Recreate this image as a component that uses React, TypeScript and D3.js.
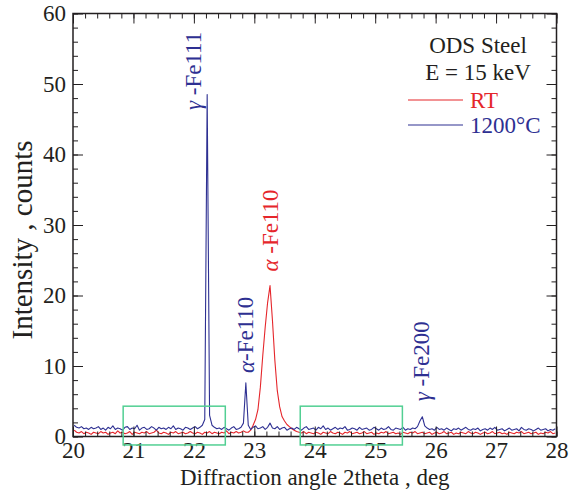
import React, { useEffect, useRef } from "react";
import * as d3 from "d3";

const width = 570;
const height = 497;
const margin = { top: 13.5, right: 13.5, bottom: 60.5, left: 73 };
const serif = "Liberation Serif, Times New Roman, Times, serif";

// scan grid, deg
const angleStart = 20.02;
const angleStep = 0.04;

// RT scan
const rtCounts = [
  0.9, 0.6, 0.5, 0.7, 0.4, 0.6, 0.5, 0.3, 0.6, 0.5,
  0.4, 0.7, 0.5, 0.6, 0.3, 0.5, 0.6, 0.4, 0.8, 0.5,
  0.6, 0.4, 0.5, 0.7, 0.3, 0.6, 0.5, 0.4, 0.6, 0.5,
  0.7, 0.4, 0.5, 0.6, 0.9, 0.5, 0.4, 0.6, 0.5, 0.3,
  0.6, 0.5, 0.7, 0.4, 0.5, 0.6, 0.4, 0.5, 0.7, 0.5,
  0.4, 0.6, 0.5, 0.3, 0.6, 0.5, 0.7, 0.4, 0.6, 0.5,
  0.4, 0.6, 0.5, 0.8, 0.4, 0.6, 0.5, 0.7, 0.5, 0.6,
  0.8, 0.6, 0.6, 0.9, 1.6, 2.4, 3.8, 7.0, 11.5, 15.5,
  19.0, 21.4, 16.5, 10.8, 6.5, 4.2, 2.8, 2.2, 1.7, 1.4,
  1.1, 0.9, 0.7, 0.6, 0.5, 0.7, 0.4, 0.6, 0.5, 0.4,
  0.6, 0.5, 0.3, 0.6, 0.5, 0.4, 0.7, 0.5, 0.4, 0.6,
  0.5, 0.3, 0.6, 0.5, 0.7, 0.4, 0.5, 0.6, 0.4, 0.5,
  0.7, 0.4, 0.5, 0.6, 0.3, 0.5, 0.4, 0.6, 0.5, 0.7,
  0.4, 0.5, 0.6, 0.4, 0.5, 0.3, 0.6, 0.5, 0.4, 0.6,
  0.5, 0.7, 0.4, 0.5, 0.6, 0.4, 0.5, 0.6, 0.3, 0.5,
  0.6, 0.4, 0.5, 0.7, 0.4, 0.5, 0.6, 0.3, 0.5, 0.4,
  0.6, 0.5, 0.4, 0.7, 0.5, 0.4, 0.6, 0.5, 0.3, 0.5,
  0.6, 0.4, 0.5, 0.7, 0.4, 0.5, 0.6, 0.4, 0.5, 0.3,
  0.6, 0.5, 0.4, 0.6, 0.5, 0.7, 0.4, 0.5, 0.6, 0.4,
  0.5, 0.6, 0.3, 0.5, 0.4, 0.6, 0.5, 0.7, 0.4, 0.5,
];

// 1200 C scan
const hotCounts = [
  1.6, 1.3, 1.2, 1.4, 1.1, 1.2, 1.0, 1.3, 1.1, 1.2,
  1.4, 1.0, 1.2, 0.9, 1.3, 1.1, 1.5, 1.0, 1.2, 1.1,
  0.9, 1.3, 1.4, 1.0, 1.2, 1.1, 1.6, 0.9, 1.2, 1.3,
  1.0, 1.1, 1.4, 1.2, 0.9, 1.3, 1.1, 1.2, 1.0, 1.3,
  1.1, 1.5, 1.0, 1.2, 1.1, 0.9, 1.3, 1.2, 1.0, 1.2,
  1.4, 1.1, 1.3, 1.6, 2.4, 48.5, 3.0, 1.6, 1.3, 1.1,
  1.2, 1.0, 1.3, 1.1, 0.9, 1.2, 1.4, 1.0, 1.1, 1.3,
  1.9, 7.6, 1.6, 1.0, 1.3, 1.5, 1.1, 1.2, 1.4, 1.0,
  1.3, 1.9, 1.2, 1.1, 1.4, 1.0, 1.2, 1.3, 0.9, 1.1,
  1.2, 1.0, 1.3, 1.1, 0.9, 1.2, 1.4, 1.0, 1.1, 1.2,
  0.9, 1.3, 1.1, 1.5, 1.0, 1.2, 0.9, 1.1, 1.3, 1.0,
  1.2, 1.1, 1.4, 0.9, 1.0, 1.2, 1.1, 0.9, 1.3, 1.0,
  1.1, 1.2, 0.9, 1.0, 1.3, 1.1, 0.9, 1.2, 1.0, 1.1,
  1.4, 1.0, 0.9, 1.2, 1.1, 1.0, 1.3, 0.9, 1.1, 1.0,
  1.2, 1.1, 1.4, 2.2, 2.8, 1.5, 1.2, 1.0, 1.1, 0.9,
  1.3, 1.0, 1.1, 0.9, 1.2, 1.0, 0.8, 1.1, 1.0, 1.2,
  0.9, 1.1, 1.3, 1.0, 0.9, 1.1, 1.0, 1.2, 0.8, 1.0,
  1.1, 0.9, 1.2, 1.0, 1.3, 0.9, 1.0, 1.1, 0.8, 1.0,
  1.2, 0.9, 1.0, 1.1, 0.8, 1.3, 1.0, 0.9, 1.1, 1.0,
  0.8, 1.0, 1.2, 0.9, 1.0, 1.1, 0.8, 1.0, 0.9, 1.1,
];

const xTicks = [20, 21, 22, 23, 24, 25, 26, 27, 28];
const yTicks = [0, 10, 20, 30, 40, 50, 60];

// green boxes: [from, to] in deg, [low, high] in counts
const boxAngles = [
  [20.83, 22.52],
  [23.76, 25.45],
];
const boxCounts = [-1.2, 4.3];

// peak labels: greek, rest, angle, counts (bottom of the text), series
const peakGreek = ["γ", "α", "α", "γ"];
const peakNames = [" -Fe111", "-Fe110", " -Fe110", " -Fe200"];
const peakAngles = [21.99, 22.86, 23.26, 25.77];
const peakCounts = [46.3, 9.0, 23.4, 5.0];
const peakSeries = ["hot", "hot", "rt", "hot"];

const legendNames = ["RT", "1200°C"];
const infoLines = ["ODS Steel", "E = 15 keV"];

const red = "#e5262b";
const blue = "#2e3092";
const green = "#52cf93";
const ink = "#231f20";

export default function App() {
  const axesRef = useRef<SVGGElement>(null);

  const x = d3
    .scaleLinear()
    .domain([20, 28])
    .range([margin.left, width - margin.right]);
  const y = d3
    .scaleLinear()
    .domain([0, 60])
    .range([height - margin.bottom, margin.top]);

  const line = d3
    .line<number>()
    .x((d, i) => x(angleStart + i * angleStep))
    .y((d) => y(d))
    .curve(d3.curveLinear);

  useEffect(() => {
    const g = d3.select(axesRef.current);
    g.selectAll("*").remove();
    const xMinor = d3.range(20, 28.001, 0.2);
    const yMinor = d3.range(0, 60.001, 2);
    const y0 = y(0);
    const x1 = x(28);
    const y1 = y(60);

    const add = (axis: any, tx: number, ty: number) =>
      g
        .append("g")
        .attr("transform", `translate(${tx},${ty})`)
        .call(axis)
        .call((s: any) => s.select(".domain").remove());

    const none = () => "";
    // bottom
    add(d3.axisBottom(x).tickValues(xMinor).tickSize(-5).tickFormat(none), 0, y0);
    add(
      d3.axisBottom(x).tickValues(xTicks).tickSize(-10).tickPadding(5).tickFormat(d3.format("d")),
      0,
      y0
    );
    // top
    add(d3.axisTop(x).tickValues(xMinor).tickSize(-5).tickFormat(none), 0, y1);
    add(d3.axisTop(x).tickValues(xTicks).tickSize(-10).tickFormat(none), 0, y1);
    // left
    add(d3.axisLeft(y).tickValues(yMinor).tickSize(-5).tickFormat(none), margin.left, 0);
    add(
      d3.axisLeft(y).tickValues(yTicks).tickSize(-10).tickPadding(7).tickFormat(d3.format("d")),
      margin.left,
      0
    );
    // right
    add(d3.axisRight(y).tickValues(yMinor).tickSize(-5).tickFormat(none), x1, 0);
    add(d3.axisRight(y).tickValues(yTicks).tickSize(-10).tickFormat(none), x1, 0);

    g.selectAll("line").attr("stroke", ink).attr("stroke-width", 1);
    g.selectAll("g").attr("font-family", null).attr("font-size", null);
    g.selectAll("text")
      .attr("fill", ink)
      .style("font-family", serif)
      .style("font-size", "23px");
  });

  const plotW = width - margin.left - margin.right;
  const plotH = height - margin.top - margin.bottom;

  return (
    <svg
      width={width}
      height={height}
      style={{ position: "absolute", left: 0, top: 0, background: "#fff", fontFamily: serif }}
    >
      <defs>
        <clipPath id="plot">
          <rect x={margin.left} y={margin.top} width={plotW} height={plotH} />
        </clipPath>
      </defs>

      {/* curves */}
      <g clipPath="url(#plot)" fill="none" strokeWidth={1.1} strokeLinejoin="round">
        <path d={line(rtCounts) || ""} stroke={red} />
        <path d={line(hotCounts) || ""} stroke={blue} />
      </g>

      {/* frame and ticks */}
      <rect
        x={margin.left}
        y={margin.top}
        width={plotW}
        height={plotH}
        fill="none"
        stroke={ink}
        strokeWidth={1.5}
      />
      <g ref={axesRef} />

      {/* green boxes */}
      {boxAngles.map((b, i) => (
        <rect
          key={i}
          x={x(b[0])}
          y={y(boxCounts[1])}
          width={x(b[1]) - x(b[0])}
          height={y(boxCounts[0]) - y(boxCounts[1])}
          fill="none"
          stroke={green}
          strokeWidth={1.5}
        />
      ))}

      {/* peak labels */}
      {peakNames.map((name, i) => (
        <text
          key={name + i}
          transform={`translate(${x(peakAngles[i])},${y(peakCounts[i])}) rotate(-90)`}
          dominantBaseline="central"
          fontSize={23}
          fill={peakSeries[i] === "rt" ? red : blue}
        >
          <tspan fontStyle="italic">{peakGreek[i]}</tspan>
          {name}
        </text>
      ))}

      {/* info and legend */}
      {infoLines.map((t, i) => (
        <text key={t} x={478} y={53 + i * 27} textAnchor="middle" fontSize={23} fill={ink}>
          {t}
        </text>
      ))}
      {legendNames.map((t, i) => (
        <g key={t} transform={`translate(0,${100 + i * 25})`}>
          <line x1={408} x2={463} stroke={i === 0 ? red : blue} strokeWidth={1.1} />
          <text x={470} y={8} fontSize={23} fill={i === 0 ? red : blue}>
            {t}
          </text>
        </g>
      ))}

      {/* axis titles */}
      <text x={(margin.left + width - margin.right) / 2} y={485} textAnchor="middle" fontSize={23} fill={ink}>
        Diffraction angle 2theta , deg
      </text>
      <text
        transform={`translate(22,${240}) rotate(-90)`}
        textAnchor="middle"
        dominantBaseline="central"
        fontSize={29}
        fill={ink}
      >
        Intensity , counts
      </text>
    </svg>
  );
}
